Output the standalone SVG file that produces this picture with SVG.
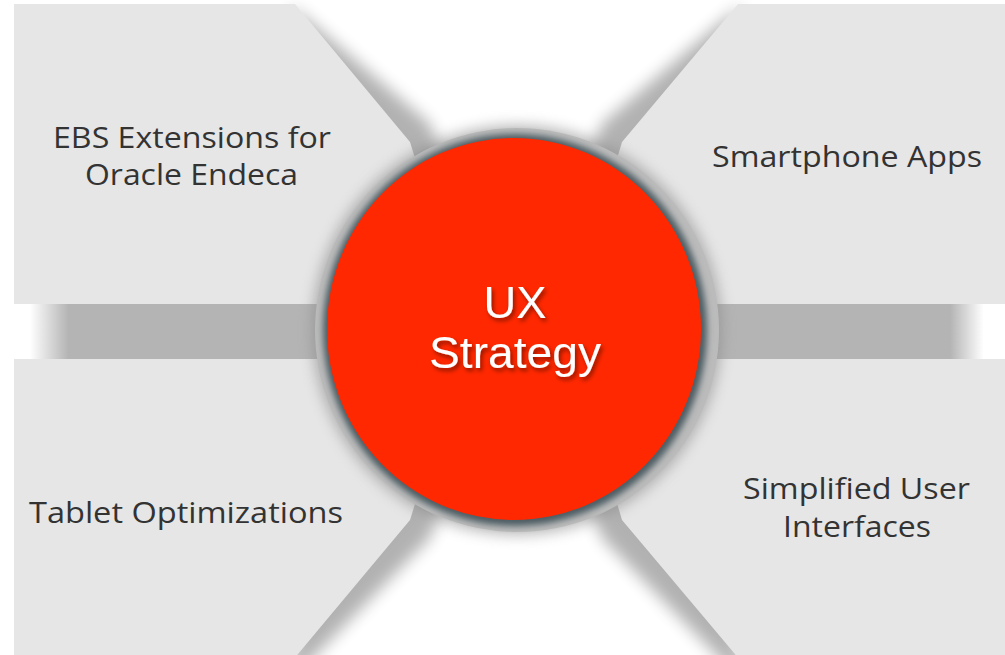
<svg xmlns="http://www.w3.org/2000/svg" width="1005" height="655" viewBox="0 0 1005 655">
  <defs>
    <style>
      .panel { fill: #e6e6e6; }
      .pshadow { fill: #000; opacity: 0.3; filter: url(#blur8); }
      .label { font-family: "Open Sans", "Liberation Sans", sans-serif; font-size: 30px; fill: #333333; text-anchor: middle; }
      .center { font-family: "Liberation Sans", Arial, sans-serif; font-size: 44px; fill: #ffffff; text-anchor: middle; filter: url(#tshadow); }
    </style>
    <filter id="blur8" x="-40%" y="-40%" width="180%" height="180%">
      <feGaussianBlur stdDeviation="8"/>
    </filter>
    <filter id="blur7" x="-20%" y="-20%" width="140%" height="140%">
      <feGaussianBlur stdDeviation="7"/>
    </filter>
    <filter id="blur3" x="-10%" y="-10%" width="120%" height="120%">
      <feGaussianBlur stdDeviation="3"/>
    </filter>
    <filter id="tshadow" x="-20%" y="-30%" width="140%" height="160%">
      <feDropShadow dx="2" dy="3" stdDeviation="2" flood-color="#000" flood-opacity="0.45"/>
    </filter>
    <linearGradient id="barL" gradientUnits="userSpaceOnUse" x1="14" y1="0" x2="334" y2="0">
      <stop offset="0" stop-color="#ffffff"/>
      <stop offset="0.05" stop-color="#ffffff"/>
      <stop offset="0.17" stop-color="#b4b4b4"/>
      <stop offset="1" stop-color="#b4b4b4"/>
    </linearGradient>
    <linearGradient id="barR" gradientUnits="userSpaceOnUse" x1="700" y1="0" x2="1005" y2="0">
      <stop offset="0" stop-color="#b4b4b4"/>
      <stop offset="0.82" stop-color="#b4b4b4"/>
      <stop offset="0.93" stop-color="#ffffff"/>
      <stop offset="1" stop-color="#ffffff"/>
    </linearGradient>
  </defs>

  <rect width="1005" height="655" fill="#ffffff"/>

  <!-- panel shadows along the diagonal edges -->
  <g id="shadows">
    <polygon class="pshadow" points="290,4 430,124 450,175 350,175"/>
    <polygon class="pshadow" points="742,4 602,124 582,175 682,175"/>
    <polygon class="pshadow" points="285,672 303,668 430,538 450,487 350,487"/>
    <polygon class="pshadow" points="747,672 729,668 602,538 582,487 682,487"/>
  </g>

  <!-- connectors (horizontal bars) -->
  <g id="connectors">
    <rect x="14" y="304" width="320" height="55" fill="url(#barL)"/>
    <rect x="700" y="304" width="305" height="55" fill="url(#barR)"/>
  </g>

  <g id="node-ebs">
    <polygon class="panel" points="14,4 295,4 410,142 460,304 14,304"/>
    <text class="label" x="192" y="148" textLength="278" lengthAdjust="spacingAndGlyphs">EBS Extensions for</text>
    <text class="label" x="191.5" y="185" textLength="213" lengthAdjust="spacingAndGlyphs">Oracle Endeca</text>
  </g>

  <g id="node-smartphone">
    <polygon class="panel" points="1005,4 738,4 622,142 574,304 1005,304"/>
    <text class="label" x="847" y="167" textLength="270" lengthAdjust="spacingAndGlyphs">Smartphone Apps</text>
  </g>

  <g id="node-tablet">
    <polygon class="panel" points="14,359 460,359 410,520 293,660 14,660"/>
    <text class="label" x="186" y="523" textLength="314" lengthAdjust="spacingAndGlyphs">Tablet Optimizations</text>
  </g>

  <g id="node-simplified">
    <polygon class="panel" points="1005,359 574,359 622,520 740,660 1005,660"/>
    <text class="label" x="856.5" y="499" textLength="227" lengthAdjust="spacingAndGlyphs">Simplified User</text>
    <text class="label" x="857" y="537" textLength="148" lengthAdjust="spacingAndGlyphs">Interfaces</text>
  </g>

  <g id="node-ux">
    <circle cx="517" cy="330" r="205" fill="#8a8a8a" opacity="0.6" filter="url(#blur7)"/>
    <circle cx="517" cy="330" r="202" fill="#bbbbbb"/>
    <ellipse cx="515" cy="330" rx="192" ry="196" fill="#4e5d64" filter="url(#blur3)"/>
    <ellipse cx="514" cy="329" rx="187" ry="191" fill="#ff2800"/>
    <text class="center" x="515" y="318" textLength="63" lengthAdjust="spacingAndGlyphs">UX</text>
    <text class="center" x="515" y="367.5" textLength="172" lengthAdjust="spacingAndGlyphs">Strategy</text>
  </g>
</svg>
